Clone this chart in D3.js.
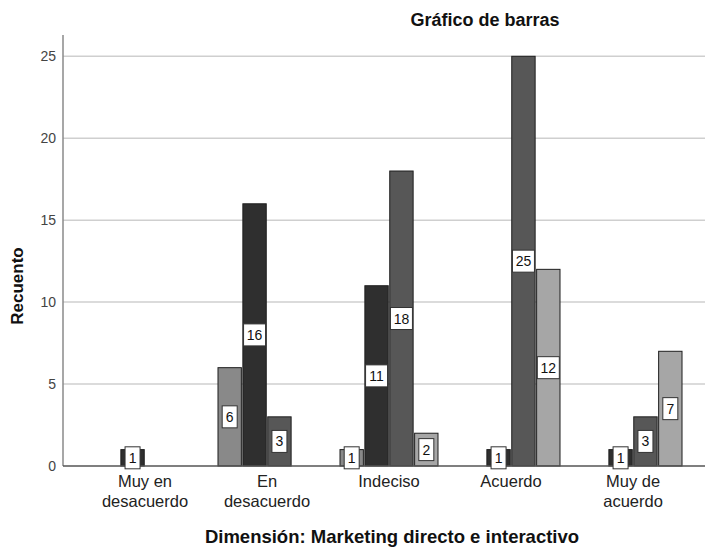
<!DOCTYPE html>
<html>
<head>
<meta charset="utf-8">
<script src="https://cdn.jsdelivr.net/npm/d3@7"></script>
<style>
  html, body { margin: 0; padding: 0; background: #fff; }
  svg { display: block; font-family: "Liberation Sans", Arial, sans-serif; }
</style>
</head>
<body>
<svg id="chart" width="705" height="548"></svg>
<script>
// Response categories of the dimension (x axis)
const categories = [
  ["Muy en", "desacuerdo"],
  ["En", "desacuerdo"],
  ["Indeciso"],
  ["Acuerdo"],
  ["Muy de", "acuerdo"]
];
const categoryKeys = ["Muy en desacuerdo", "En desacuerdo", "Indeciso", "Acuerdo", "Muy de acuerdo"];

// Clustered series (counts per category)
const seriesKeys = ["s1", "s2", "s3", "s4"];
const seriesA = [0, 6, 1, 0, 0];
const seriesB = [1, 16, 11, 1, 1];
const seriesC = [0, 3, 18, 25, 3];
const seriesD = [0, 0, 2, 12, 7];
const seriesValues = [seriesA, seriesB, seriesC, seriesD];
const seriesColors = ["#898989", "#2f2f2f", "#575757", "#a6a6a6"];

const yTicks = [0, 5, 10, 15, 20, 25];

const svg = d3.select("#chart");
const W = 705, H = 548;
const plot = { left: 63, right: 715, top: 35, bottom: 466 };

const x0 = d3.scaleBand()
  .domain(categoryKeys)
  .range([plot.left, plot.right])
  .paddingInner(0)
  .paddingOuter(0.172);

const x1 = d3.scaleBand()
  .domain(seriesKeys)
  .range([-49, 49])
  .paddingInner(0.06);

const y = d3.scaleLinear().domain([0, 26.3]).range([plot.bottom, plot.top]);

// Grid lines
svg.append("g")
  .selectAll("line")
  .data(yTicks.filter(d => d > 0))
  .join("line")
  .attr("x1", plot.left).attr("x2", W)
  .attr("y1", d => y(d)).attr("y2", d => y(d))
  .attr("stroke", "#cfcfcf").attr("stroke-width", 1.5);

// Y axis
const yAxis = svg.append("g")
  .attr("transform", `translate(${plot.left},0)`)
  .call(d3.axisLeft(y).tickValues(yTicks).tickSize(0).tickPadding(7));
yAxis.select(".domain").remove();
yAxis.selectAll("text")
  .attr("font-size", 14)
  .attr("fill", "#444")
  .attr("font-family", "Liberation Sans, Arial, sans-serif");

svg.append("line")
  .attr("x1", plot.left).attr("x2", plot.left)
  .attr("y1", plot.top).attr("y2", plot.bottom)
  .attr("stroke", "#8a8a8a").attr("stroke-width", 1.5);

// Bars
const flat = [];
categoryKeys.forEach((c, i) => {
  seriesKeys.forEach((s, j) => {
    const v = seriesValues[j][i];
    if (v > 0) flat.push({ cat: c, ser: s, v, color: seriesColors[j] });
  });
});

const bars = svg.append("g");
bars.selectAll("rect")
  .data(flat)
  .join("rect")
  .attr("x", d => x0(d.cat) + x0.bandwidth() / 2 + x1(d.ser))
  .attr("width", x1.bandwidth())
  .attr("y", d => y(d.v))
  .attr("height", d => y(0) - y(d.v))
  .attr("fill", d => d.color)
  .attr("stroke", "#1e1e1e")
  .attr("stroke-width", 1);

// X baseline
svg.append("line")
  .attr("x1", plot.left).attr("x2", W)
  .attr("y1", plot.bottom).attr("y2", plot.bottom)
  .attr("stroke", "#555").attr("stroke-width", 1.5);

// Value labels in boxes at mid-height of each bar
const lab = svg.append("g").selectAll("g")
  .data(flat)
  .join("g")
  .attr("transform", d => {
    const cx = x0(d.cat) + x0.bandwidth() / 2 + x1(d.ser) + x1.bandwidth() / 2;
    const cy = y(d.v / 2);
    return `translate(${cx},${cy})`;
  });
lab.append("rect")
  .attr("x", d => String(d.v).length > 1 ? -11 : -7.5)
  .attr("width", d => String(d.v).length > 1 ? 22 : 15)
  .attr("y", -11).attr("height", 22)
  .attr("fill", "#fff")
  .attr("stroke", "#333").attr("stroke-width", 1);
lab.append("text")
  .attr("text-anchor", "middle")
  .attr("dy", "0.36em")
  .attr("font-size", 14)
  .attr("fill", "#111")
  .text(d => d.v);

// Category labels (wrapped onto two lines where needed)
const xAxis = svg.append("g")
  .attr("transform", `translate(0,${plot.bottom})`)
  .call(d3.axisBottom(x0).tickSize(0).tickPadding(0));
xAxis.select(".domain").remove();
xAxis.selectAll("text").each(function(d, i) {
  const t = d3.select(this);
  t.text(null)
    .attr("font-size", 16.5)
    .attr("fill", "#222")
    .attr("font-family", "Liberation Sans, Arial, sans-serif")
    .attr("y", 0).attr("dy", null);
  categories[i].forEach((line, k) => {
    t.append("tspan")
      .attr("x", 0)
      .attr("y", 21 + k * 19.5)
      .text(line);
  });
});

// Titles
svg.append("text")
  .attr("x", 485).attr("y", 26)
  .attr("text-anchor", "middle")
  .attr("font-size", 18).attr("font-weight", "bold").attr("fill", "#111")
  .text("Gráfico de barras");

svg.append("text")
  .attr("transform", `translate(23,286) rotate(-90)`)
  .attr("text-anchor", "middle")
  .attr("font-size", 17).attr("font-weight", "bold").attr("fill", "#111")
  .text("Recuento");

svg.append("text")
  .attr("x", 392).attr("y", 543)
  .attr("text-anchor", "middle")
  .attr("font-size", 18.5).attr("font-weight", "bold").attr("fill", "#111")
  .text("Dimensión: Marketing directo e interactivo");
</script>
</body>
</html>
